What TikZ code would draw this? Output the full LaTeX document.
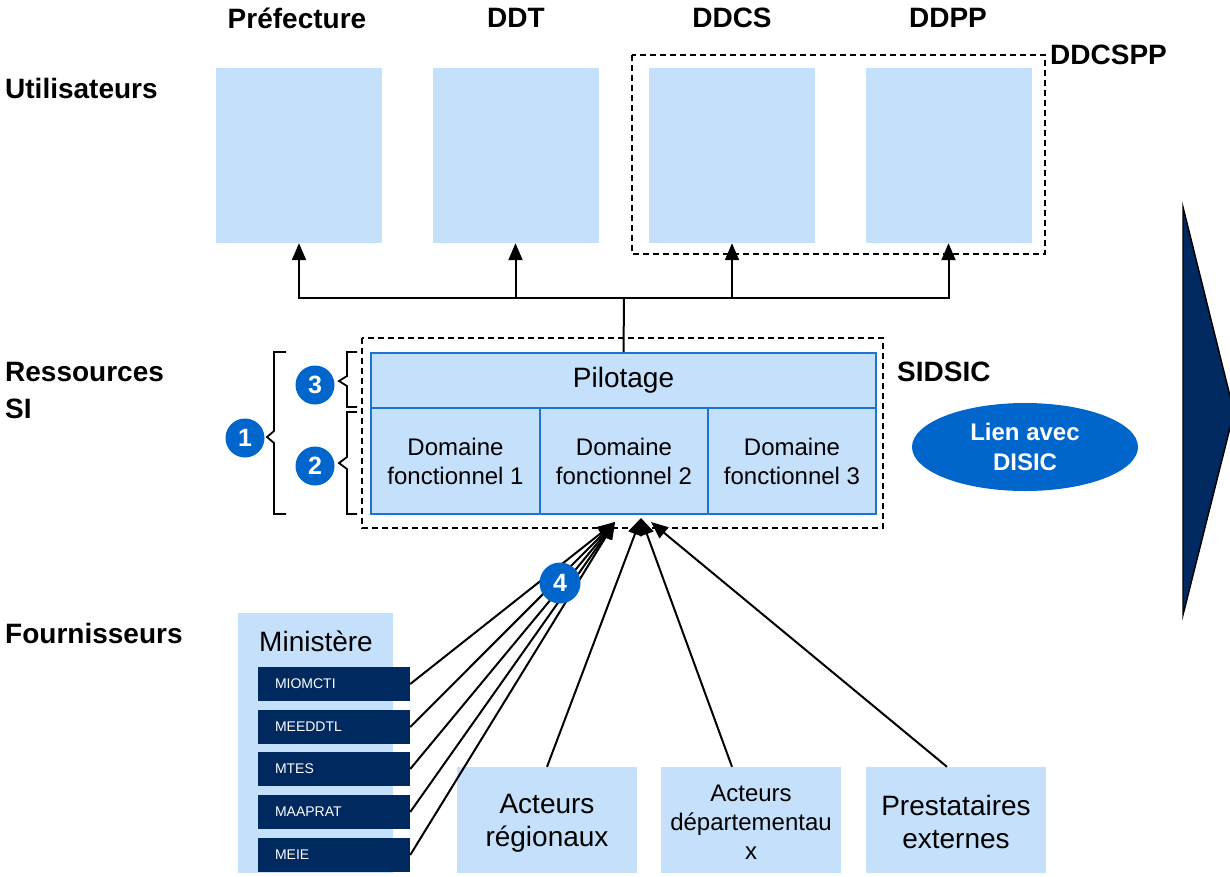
\documentclass[tikz,border=0pt]{standalone}
\usepackage{fontspec}
\setmainfont{Liberation Sans}
\usetikzlibrary{arrows.meta,shapes.geometric}
\definecolor{lightbl}{RGB}{197,224,250}
\definecolor{pilborder}{RGB}{30,115,210}
\definecolor{circblue}{RGB}{0,102,204}
\definecolor{navy}{RGB}{0,41,96}
\tikzset{
  ubox/.style={fill=lightbl, draw=none, minimum width=166, minimum height=175, inner sep=0},
  grouplabel/.style={font=\fontsize{28}{34}\selectfont\bfseries, inner sep=0},
  sidelabel/.style={font=\fontsize{28}{37}\selectfont\bfseries, anchor=west, align=left, inner sep=0},
  pilbox/.style={fill=lightbl, draw=pilborder, line width=1.8, inner sep=0, align=center},
  dashbox/.style={draw=black, dashed, dash pattern=on 6pt off 4pt, line width=1.6},
  numcirc/.style={circle, fill=circblue, text=white, font=\fontsize{25}{25}\selectfont\bfseries, minimum size=39, inner sep=0},
  minbox/.style={fill=navy, text=white, font=\fontsize{14}{14}\selectfont, minimum width=152, minimum height=34, inner sep=0, text width=118, align=left},
  fbox/.style={fill=lightbl, draw=none, minimum width=180, minimum height=106, inner sep=0},
  ftext/.style={inner sep=0, align=center},
  conn/.style={line width=2, -{Triangle[length=17pt,width=14pt]}},
  brace/.style={line width=1.8, line join=miter}
}
\begin{document}
\begin{tikzpicture}[x=1pt,y=-1pt]
\useasboundingbox (0,0) rectangle (1230,876);

% right big arrow
\path[fill=navy, draw=black, line width=1.4] (1183,207) -- (1234,412) -- (1183,615) -- cycle;

% top labels
\node[grouplabel] (lpref) at (297,18) {Préfecture};
\node[grouplabel] (lddt) at (516,18) {DDT};
\node[grouplabel] (lddcs) at (732,18) {DDCS};
\node[grouplabel] (lddpp) at (948,18) {DDPP};
\node[grouplabel, anchor=west] (lddcspp) at (1050,55) {DDCSPP};

% side labels
\node[sidelabel] (lutil) at (5,88) {Utilisateurs};
\node[sidelabel] (lres) at (5,390) {Ressources\\SI};
\node[sidelabel] (lfour) at (5,633) {Fournisseurs};

% user boxes
\node[ubox] (pref) at (299,155.5) {};
\node[ubox] (ddt) at (515.5,155.5) {};
\node[ubox] (ddcs) at (732,155.5) {};
\node[ubox] (ddpp) at (948.5,155.5) {};
\draw[dashbox] (632,55) rectangle (1045,254);

% SIDSIC
\draw[dashbox] (362,338) rectangle (883,528);
\node[grouplabel, anchor=west] (lsidsic) at (897,372) {SIDSIC};
\node[pilbox, minimum width=505, minimum height=55, font=\fontsize{28}{34}\selectfont] (pil) at (623.5,380.5) {Pilotage};
\node[pilbox, minimum width=169, minimum height=106, font=\fontsize{24}{29}\selectfont] (d1) at (455.5,461) {Domaine\\fonctionnel 1};
\node[pilbox, minimum width=168, minimum height=106, font=\fontsize{24}{29}\selectfont] (d2) at (624,461) {Domaine\\fonctionnel 2};
\node[pilbox, minimum width=168, minimum height=106, font=\fontsize{24}{29}\selectfont] (d3) at (792,461) {Domaine\\fonctionnel 3};

% Lien avec DISIC
\node[ellipse, fill=circblue, text=white, minimum width=226, minimum height=88, inner sep=0, align=center, font=\fontsize{24}{30}\selectfont\bfseries] (disic) at (1025,447) {Lien avec\\DISIC};

% top connectors
\coordinate (hub) at (624,298);
\draw[line width=2] (pil.north) -- (hub);
\draw[conn] (hub) -| (pref.south);
\draw[conn] (hub) -| (ddt.south);
\draw[conn] (hub) -| (ddcs.south);
\draw[conn] (hub) -| (ddpp.south);

% braces
\draw[brace] (286,352) -- (274,352) -- (274,431) -- (267,437) -- (274,443) -- (274,514) -- (286,514);
\draw[brace] (357,352) -- (347,352) -- (347,376) -- (339,381) -- (347,386) -- (347,407) -- (357,407);
\draw[brace] (357,412) -- (347,412) -- (347,457) -- (339,463) -- (347,469) -- (347,514) -- (357,514);
\node[numcirc] (n1) at (245,438) {1};
\node[numcirc] (n3) at (315,385) {3};
\node[numcirc] (n2) at (315,466) {2};

% suppliers
\node[fill=lightbl, minimum width=155, minimum height=260, inner sep=0] (min) at (315.5,743) {};
\node[font=\fontsize{28}{34}\selectfont, inner sep=0] (mintxt) at (316,641) {Ministère};
\node[minbox] (m1) at (334,684) {MIOMCTI};
\node[minbox] (m2) at (334,727) {MEEDDTL};
\node[minbox] (m3) at (334,769) {MTES};
\node[minbox] (m4) at (334,812) {MAAPRAT};
\node[minbox] (m5) at (334,855) {MEIE};

\node[fbox] (ar) at (547,820) {};
\node[fbox] (ad) at (751,820) {};
\node[fbox] (pe) at (956,820) {};
\node[ftext, font=\fontsize{28}{33}\selectfont] (artxt) at (547,823) {Acteurs\\régionaux};
\node[ftext, font=\fontsize{24}{29}\selectfont] (adtxt) at (751,822) {Acteurs\\départementau\\x};
\node[ftext, font=\fontsize{28}{33}\selectfont] (petxt) at (956,822) {Prestataires\\externes};

\coordinate (t1) at (615,522);
\coordinate (t2) at (641,518);
\coordinate (t3) at (651,522);
\foreach \m in {m1,m2,m3,m4,m5} \draw[conn] (\m.east) -- (t1);
\draw[conn] (ar.north) -- (t2);
\draw[conn] ([xshift=-19pt]ad.north) -- (t2);
\draw[conn] ([xshift=-9pt]pe.north) -- (t3);

\node[numcirc, minimum size=41] (n4) at (560,583) {4};
\end{tikzpicture}
\end{document}
